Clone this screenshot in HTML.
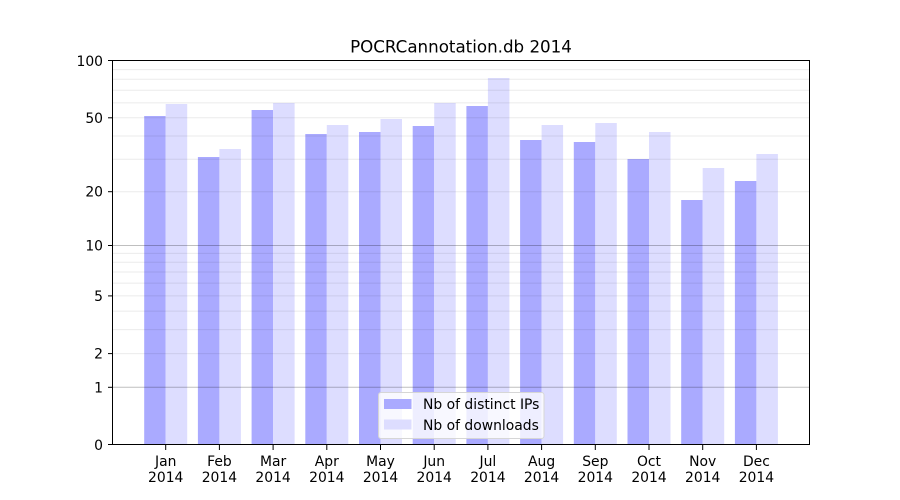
<!DOCTYPE html>
<html><head><meta charset="utf-8"><style>
html,body{margin:0;padding:0;background:#fff;}
svg{display:block;}
text{font-family:"DejaVu Sans","Liberation Sans",sans-serif;fill:#000;}
</style></head><body>
<svg width="900" height="500" viewBox="0 0 900 500" xmlns="http://www.w3.org/2000/svg">
<rect x="0" y="0" width="900" height="500" fill="#fff"/>
<!-- bars -->
<g>
<rect x="144.2" y="116" width="21.5" height="329" fill="#aaaaff"/>
<rect x="165.7" y="104" width="21.5" height="341" fill="#ddddff"/>
<rect x="197.9" y="157" width="21.5" height="288" fill="#aaaaff"/>
<rect x="219.4" y="149" width="21.5" height="296" fill="#ddddff"/>
<rect x="251.6" y="110" width="21.5" height="335" fill="#aaaaff"/>
<rect x="273.1" y="103" width="21.5" height="342" fill="#ddddff"/>
<rect x="305.3" y="134" width="21.5" height="311" fill="#aaaaff"/>
<rect x="326.8" y="125" width="21.5" height="320" fill="#ddddff"/>
<rect x="359.0" y="132" width="21.5" height="313" fill="#aaaaff"/>
<rect x="380.5" y="119" width="21.5" height="326" fill="#ddddff"/>
<rect x="412.7" y="126" width="21.5" height="319" fill="#aaaaff"/>
<rect x="434.2" y="103" width="21.5" height="342" fill="#ddddff"/>
<rect x="466.4" y="106" width="21.5" height="339" fill="#aaaaff"/>
<rect x="487.9" y="78" width="21.5" height="367" fill="#ddddff"/>
<rect x="520.1" y="140" width="21.5" height="305" fill="#aaaaff"/>
<rect x="541.6" y="125" width="21.5" height="320" fill="#ddddff"/>
<rect x="573.8" y="142" width="21.5" height="303" fill="#aaaaff"/>
<rect x="595.3" y="123" width="21.5" height="322" fill="#ddddff"/>
<rect x="627.5" y="159" width="21.5" height="286" fill="#aaaaff"/>
<rect x="649.0" y="132" width="21.5" height="313" fill="#ddddff"/>
<rect x="681.2" y="200" width="21.5" height="245" fill="#aaaaff"/>
<rect x="702.7" y="168" width="21.5" height="277" fill="#ddddff"/>
<rect x="734.9" y="181" width="21.5" height="264" fill="#aaaaff"/>
<rect x="756.4" y="154" width="21.5" height="291" fill="#ddddff"/>
</g>
<!-- grid -->
<g stroke="rgba(0,0,0,0.08)" stroke-width="1">
<line x1="113" x2="810" y1="353.6" y2="353.6"/>
<line x1="113" x2="810" y1="329.6" y2="329.6"/>
<line x1="113" x2="810" y1="311.1" y2="311.1"/>
<line x1="113" x2="810" y1="295.9" y2="295.9"/>
<line x1="113" x2="810" y1="283.1" y2="283.1"/>
<line x1="113" x2="810" y1="272.0" y2="272.0"/>
<line x1="113" x2="810" y1="262.2" y2="262.2"/>
<line x1="113" x2="810" y1="253.4" y2="253.4"/>
<line x1="113" x2="810" y1="191.7" y2="191.7"/>
<line x1="113" x2="810" y1="159.3" y2="159.3"/>
<line x1="113" x2="810" y1="136.0" y2="136.0"/>
<line x1="113" x2="810" y1="117.8" y2="117.8"/>
<line x1="113" x2="810" y1="102.9" y2="102.9"/>
<line x1="113" x2="810" y1="90.3" y2="90.3"/>
<line x1="113" x2="810" y1="79.3" y2="79.3"/>
<line x1="113" x2="810" y1="69.6" y2="69.6"/>
</g>
<g stroke="rgba(0,0,0,0.25)" stroke-width="1">
<line x1="113" x2="810" y1="387.3" y2="387.3"/>
<line x1="113" x2="810" y1="245.5" y2="245.5"/>
</g>
<!-- spines -->
<rect x="112.5" y="60.5" width="697" height="384" fill="none" stroke="#000" stroke-width="1"/>
<!-- y ticks -->
<g stroke="#000" stroke-width="1">
<line x1="108" x2="113" y1="444.5" y2="444.5"/>
<line x1="108" x2="113" y1="387.3" y2="387.3"/>
<line x1="108" x2="113" y1="353.6" y2="353.6"/>
<line x1="108" x2="113" y1="295.9" y2="295.9"/>
<line x1="108" x2="113" y1="245.5" y2="245.5"/>
<line x1="108" x2="113" y1="191.7" y2="191.7"/>
<line x1="108" x2="113" y1="117.8" y2="117.8"/>
<line x1="108" x2="113" y1="60.5" y2="60.5"/>
</g>
<g font-size="13.9" text-anchor="end">
<text x="103" y="450">0</text>
<text x="103" y="392.3">1</text>
<text x="103" y="358.6">2</text>
<text x="103" y="300.9">5</text>
<text x="103" y="250.5">10</text>
<text x="103" y="196.7">20</text>
<text x="103" y="122.8">50</text>
<text x="103" y="66">100</text>
</g>
<!-- x ticks -->
<g stroke="#000" stroke-width="1">
<line x1="165.7" x2="165.7" y1="445" y2="450"/>
<line x1="219.4" x2="219.4" y1="445" y2="450"/>
<line x1="273.1" x2="273.1" y1="445" y2="450"/>
<line x1="326.8" x2="326.8" y1="445" y2="450"/>
<line x1="380.5" x2="380.5" y1="445" y2="450"/>
<line x1="434.2" x2="434.2" y1="445" y2="450"/>
<line x1="487.9" x2="487.9" y1="445" y2="450"/>
<line x1="541.6" x2="541.6" y1="445" y2="450"/>
<line x1="595.3" x2="595.3" y1="445" y2="450"/>
<line x1="649.0" x2="649.0" y1="445" y2="450"/>
<line x1="702.7" x2="702.7" y1="445" y2="450"/>
<line x1="756.4" x2="756.4" y1="445" y2="450"/>
</g>
<g font-size="13.9" text-anchor="middle">
<text x="165.7" y="466">Jan</text><text x="165.7" y="482">2014</text>
<text x="219.4" y="466">Feb</text><text x="219.4" y="482">2014</text>
<text x="273.1" y="466">Mar</text><text x="273.1" y="482">2014</text>
<text x="326.8" y="466">Apr</text><text x="326.8" y="482">2014</text>
<text x="380.5" y="466">May</text><text x="380.5" y="482">2014</text>
<text x="434.2" y="466">Jun</text><text x="434.2" y="482">2014</text>
<text x="487.9" y="466">Jul</text><text x="487.9" y="482">2014</text>
<text x="541.6" y="466">Aug</text><text x="541.6" y="482">2014</text>
<text x="595.3" y="466">Sep</text><text x="595.3" y="482">2014</text>
<text x="649.0" y="466">Oct</text><text x="649.0" y="482">2014</text>
<text x="702.7" y="466">Nov</text><text x="702.7" y="482">2014</text>
<text x="756.4" y="466">Dec</text><text x="756.4" y="482">2014</text>
</g>
<!-- title -->
<text x="461" y="52.5" font-size="16.7" text-anchor="middle">POCRCannotation.db 2014</text>
<!-- legend -->
<rect x="378.5" y="392.5" width="165.5" height="46" rx="2.5" ry="2.5" fill="rgba(255,255,255,0.8)" stroke="#d6d6d6" stroke-width="1"/>
<rect x="384" y="399" width="27.5" height="10" fill="#aaaaff"/>
<rect x="384" y="419.5" width="27.5" height="10" fill="#ddddff"/>
<g font-size="13.9">
<text x="423" y="409">Nb of distinct IPs</text>
<text x="423" y="430">Nb of downloads</text>
</g>
</svg>
</body></html>
